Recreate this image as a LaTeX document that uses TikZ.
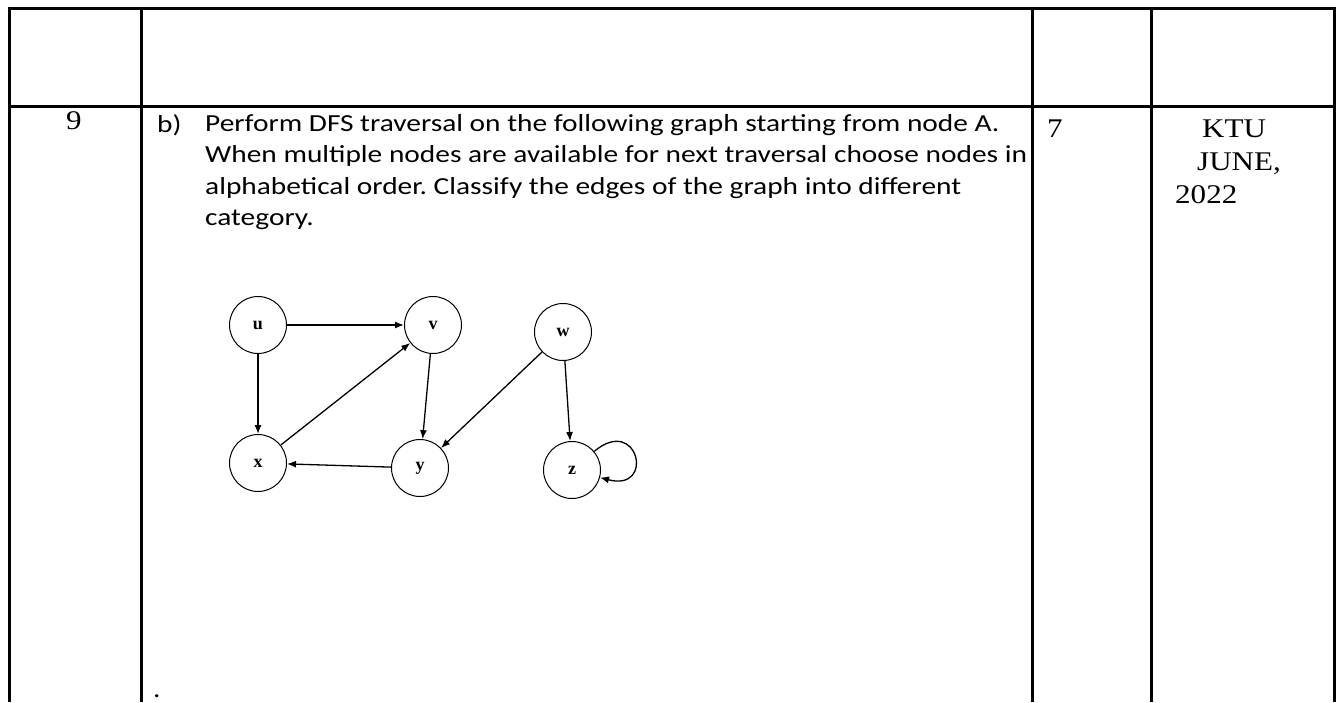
\documentclass[tikz,border=0pt]{standalone}
\usepackage{fontspec}
\setmainfont{Carlito}[FakeStretch=1.2]
\newfontfamily\timesfont{Liberation Serif}[FakeStretch=1.15]
\newfontfamily\labelfont{Liberation Serif}
\usetikzlibrary{arrows.meta,positioning}
\frenchspacing

\begin{document}
\begin{tikzpicture}[x=1pt, y=-1pt,
        rule/.style={line width=3pt},
        vtx/.style={draw, circle, line width=1pt, minimum size=57pt, inner sep=0pt, font=\labelfont\bfseries\fontsize{18}{18}\selectfont},
        arrow/.style={-{Latex[length=9pt,width=7pt]}, line width=1.3pt},
        qtext/.style={inner sep=0pt, font=\fontsize{24.5}{31.5}\selectfont},
        ttext/.style={inner sep=0pt, font=\timesfont\fontsize{27}{27}\selectfont}
    ]
        \useasboundingbox (0,0) rectangle (1342,702);
        % table rules
        \draw[rule] (9,702) -- (9,8) -- (1334,8) -- (1334,702);
        \draw[rule] (9,106) -- (1334,106);
        \foreach \c in {141,1032,1151}
            \draw[rule] (\c,8) -- (\c,702);

        % cells
        \node[ttext, anchor=base west] (qno) at (66,129) {9};
        \node[qtext, anchor=base west] (part) at (157,132) {b)};
        \node[qtext, anchor=north west, align=left] (question) at (205,114) {Perform DFS traversal on the following graph starting from node A.\\
            When multiple nodes are available for next traversal choose nodes in\\
            alphabetical order. Classify the edges of the graph into different\\
            category.};
        \node[ttext, anchor=base west] (marks) at (1047,137) {7};
        \node[ttext, anchor=base west] (ktu) at (1202,137) {KTU};
        \node[ttext, anchor=base west] (june) at (1197,170) {JUNE,};
        \node[ttext, anchor=base west] (year) at (1175,203) {2022};
        \node[qtext, anchor=base west] (dot) at (153,697) {.};

        % graph
        \node[vtx] (u) at (258,325) {u};
        \node[vtx] (v) at (433,325) {v};
        \node[vtx] (w) at (563,332) {w};
        \node[vtx] (x) at (258,463) {x};
        \node[vtx] (y) at (420,468) {y};
        \node[vtx] (z) at (572,470) {z};

        \draw[arrow] (u) -- (v);
        \draw[arrow] (u) -- (x);
        \draw[arrow] (x) -- (v);
        \draw[arrow] (v) -- (y);
        \draw[arrow] (w) -- (y);
        \draw[arrow] (w) -- (z);
        \draw[arrow] (y) -- (x);
        \draw[arrow] (z.40) to[out=40, in=-15, looseness=5.5] (z.-15);
    \end{tikzpicture}
\end{document}
